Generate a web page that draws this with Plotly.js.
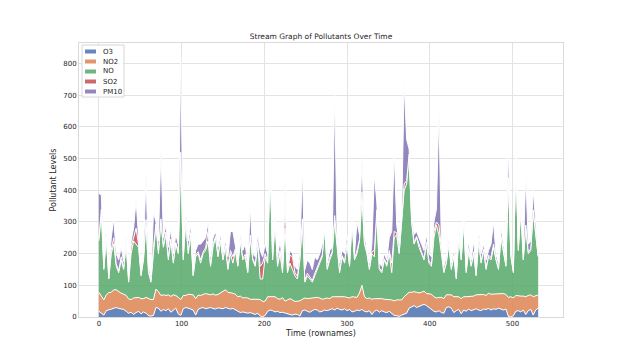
<!DOCTYPE html>
<html><head><meta charset="utf-8">
<script src="https://cdn.plot.ly/plotly-3.0.1.min.js"></script>
<style>html,body{margin:0;padding:0;background:#fff;}#chart{width:624px;height:356px;}</style>
</head><body><div id="chart"></div>
<script>
const time = [0,3,6,9,12,15,18,21,24,27,30,33,36,39,42,45,48,51,54,57,60,63,66,69,72,75,78,81,84,87,90,93,96,99,102,105,108,111,114,117,120,123,126,129,132,135,138,141,144,147,150,153,156,159,162,165,168,171,174,177,180,183,186,189,192,195,198,201,204,207,210,213,216,219,222,225,228,231,234,237,240,243,246,249,252,255,258,261,264,267,270,273,276,279,282,285,288,291,294,297,300,303,306,309,312,315,318,321,324,327,330,333,336,339,342,345,348,351,354,357,360,363,366,369,372,375,378,381,384,387,390,393,396,399,402,405,408,411,414,417,420,423,426,429,432,435,438,441,444,447,450,453,456,459,462,465,468,471,474,477,480,483,486,489,492,495,498,501,504,507,510,513,516,519,522,525,528,531];

const o3 = [18,12,6,20,22,26,28,30,27,25,
24,18,12,15,8,14,18,10,16,12,
4,3,5,30,28,18,24,20,26,15,
22,28,10,5,26,30,28,25,22,6,
24,28,30,26,28,30,27,25,29,28,
26,30,28,25,27,22,18,14,16,15,
12,14,10,8,12,3,1,5,18,22,
20,16,18,14,15,12,10,8,6,9,
8,3,20,22,18,15,20,24,22,16,
18,22,20,24,26,22,28,24,22,26,
20,24,16,18,22,20,24,18,16,20,
8,18,22,15,20,16,14,18,10,5,
4,2,6,8,12,28,32,36,30,34,
38,40,36,30,22,18,16,20,14,12,
30,32,28,14,20,24,10,22,18,25,
20,24,26,22,20,25,24,27,22,26,
24,28,26,22,25,2,0,4,18,20,
16,22,8,20,24,6,22,28];

const no2 = [60,55,48,50,55,52,58,56,52,50,
48,50,45,40,52,46,44,48,42,50,
55,52,50,58,52,50,46,48,44,50,
48,40,52,50,42,38,44,46,48,52,
45,40,42,48,44,40,46,44,42,48,
54,56,50,52,48,50,46,52,44,46,
48,42,46,50,44,52,48,45,46,42,
44,48,40,42,46,38,44,50,48,40,
42,48,36,38,40,44,38,36,40,44,
38,36,40,34,38,42,36,40,44,38,
42,36,48,44,40,56,76,46,42,40,
48,40,36,44,38,40,42,36,44,46,
50,52,48,56,60,50,46,44,48,42,
40,42,38,44,50,46,44,42,48,46,
40,38,42,50,44,40,48,42,46,40,
46,42,44,48,50,46,44,48,50,46,
50,46,48,52,46,60,64,56,50,46,
50,44,56,48,46,58,44,42];

const no = [162,263,96,180,43,122,144,74,61,105,
78,162,53,145,180,170,158,72,122,238,
81,55,135,202,120,232,150,192,110,175,
100,162,138,445,112,232,128,189,60,132,
131,102,128,136,168,90,147,181,119,164,
100,134,72,123,95,138,96,174,120,129,
80,194,124,102,174,65,71,140,106,426,
116,236,102,144,79,230,86,112,96,81,
70,129,244,50,72,61,52,70,88,110,
134,222,90,122,136,236,166,76,124,106,
168,100,236,118,138,164,280,166,142,90,
144,132,272,91,82,124,104,146,86,199,
206,146,246,336,348,432,222,150,172,144,
122,98,156,96,88,186,230,198,138,82,
100,160,80,126,56,186,122,236,76,145,
94,134,60,170,100,139,82,115,108,148,
106,76,176,126,89,368,126,80,432,144,
274,114,216,132,140,266,184,120];

const so2 = [8,10,5,6,4,12,20,8,6,10,
5,8,4,25,10,50,8,5,6,8,
6,8,30,4,8,10,6,8,10,6,
6,5,8,20,6,8,10,6,4,5,
6,10,5,8,30,6,8,5,6,4,
4,5,8,10,20,5,4,6,5,8,
4,8,5,6,8,40,50,10,6,4,
6,5,8,10,6,90,5,25,40,10,
8,6,10,6,8,6,5,8,6,5,
6,4,5,8,6,20,5,6,4,6,
5,4,6,5,10,4,15,6,5,4,
6,20,8,4,5,4,6,10,30,20,
6,5,4,20,10,4,6,5,4,6,
6,5,6,8,6,20,10,30,6,4,
4,5,6,4,5,6,4,6,5,6,
4,6,5,8,6,4,6,5,8,10,
4,5,6,8,5,10,4,5,6,4,
5,4,10,6,5,8,6,3];

const pm10 = [142,45,15,24,16,38,60,32,34,30,
20,22,16,15,30,90,22,15,14,142,
14,12,110,6,32,220,24,22,30,34,
24,25,22,300,24,22,30,24,16,15,
24,50,35,32,30,24,22,15,24,16,
16,15,32,60,80,15,16,14,25,32,
16,92,15,24,22,50,20,30,24,6,
24,15,22,30,24,60,15,15,10,20,
22,24,160,34,42,44,35,52,24,25,
34,6,15,22,14,380,15,24,16,24,
25,16,14,15,90,16,105,24,15,16,
24,240,22,16,15,16,14,40,100,250,
24,25,16,320,130,16,24,25,16,24,
24,25,24,22,24,30,40,360,24,16,
16,15,14,16,15,24,16,14,15,24,
16,34,15,22,24,16,24,15,42,70,
16,15,24,22,15,100,16,15,14,16,
15,16,160,24,25,62,44,7];

const names = ['O3','NO2','NO','SO2','PM10'];
const colors = ['#4c72b0','#dd8452','#55a868','#c44e52','#8172b3'];
const xTicks = [0,100,200,300,400,500];
const yTicks = [0,100,200,300,400,500,600,700,800];
const series = [o3, no2, no, so2, pm10];

function rgba(hex, a) {
  const n = parseInt(hex.slice(1), 16);
  return 'rgba(' + (n >> 16 & 255) + ',' + (n >> 8 & 255) + ',' + (n & 255) + ',' + a + ')';
}

const traces = series.map((s, i) => ({
  x: time, y: s, type: 'scatter', mode: 'lines', stackgroup: 'one',
  name: names[i], line: {color: '#ffffff', width: 1},
  fillcolor: rgba(colors[i], 0.85), hoverinfo: 'skip', showlegend: false
}));

// plot area in pixels
const L = 79, R = 563, T = 43, B = 317, W = R - L, H = B - T;
const px = v => (v - L) / W;
const py = v => (B - v) / H;

const shapes = [{
  type: 'rect', xref: 'paper', yref: 'paper',
  x0: px(82), x1: px(124), y0: py(97), y1: py(45),
  fillcolor: 'rgba(255,255,255,0.85)', line: {color: '#d6d6d6', width: 1}, layer: 'above'
}];
const annotations = [];
names.forEach((nm, i) => {
  const cy = 51.5 + 10 * i;
  shapes.push({
    type: 'rect', xref: 'paper', yref: 'paper',
    x0: px(85), x1: px(96), y0: py(cy + 2), y1: py(cy - 2),
    fillcolor: rgba(colors[i], 0.85), line: {width: 0}, layer: 'above'
  });
  annotations.push({
    xref: 'paper', yref: 'paper', x: px(101), y: py(cy), xanchor: 'left', yanchor: 'middle',
    text: nm, showarrow: false, font: {family: 'DejaVu Sans', size: 7, color: '#262626'}
  });
});

const axisCommon = {
  showgrid: true, gridcolor: '#e3e3e3', gridwidth: 1,
  zeroline: false, showline: true, linecolor: '#dadada', linewidth: 1, mirror: true,
  ticks: '', tickfont: {family: 'DejaVu Sans', size: 7, color: '#262626'}
};

const layout = {
  width: 624, height: 356,
  margin: {l: L, r: 624 - R, t: T, b: 356 - B},
  paper_bgcolor: '#ffffff', plot_bgcolor: '#ffffff',
  title: {text: 'Stream Graph of Pollutants Over Time', font: {family: 'DejaVu Sans', size: 7.5, color: '#262626'},
          xref: 'paper', x: 0.5, xanchor: 'center', yref: 'container', y: 1 - 36 / 356, yanchor: 'middle'},
  xaxis: Object.assign({}, axisCommon, {
    range: [-24, 561], tickvals: xTicks, ticktext: xTicks.map(String),
    title: {text: 'Time (rownames)', font: {family: 'DejaVu Sans', size: 8, color: '#262626'}, standoff: 2}
  }),
  yaxis: Object.assign({}, axisCommon, {
    range: [0, 865], tickvals: yTicks, ticktext: yTicks.map(String),
    title: {text: 'Pollutant Levels', font: {family: 'DejaVu Sans', size: 8, color: '#262626'}, standoff: 5}
  }),
  shapes: shapes, annotations: annotations, showlegend: false
};

Plotly.newPlot('chart', traces, layout, {displayModeBar: false, staticPlot: true});
</script></body></html>
